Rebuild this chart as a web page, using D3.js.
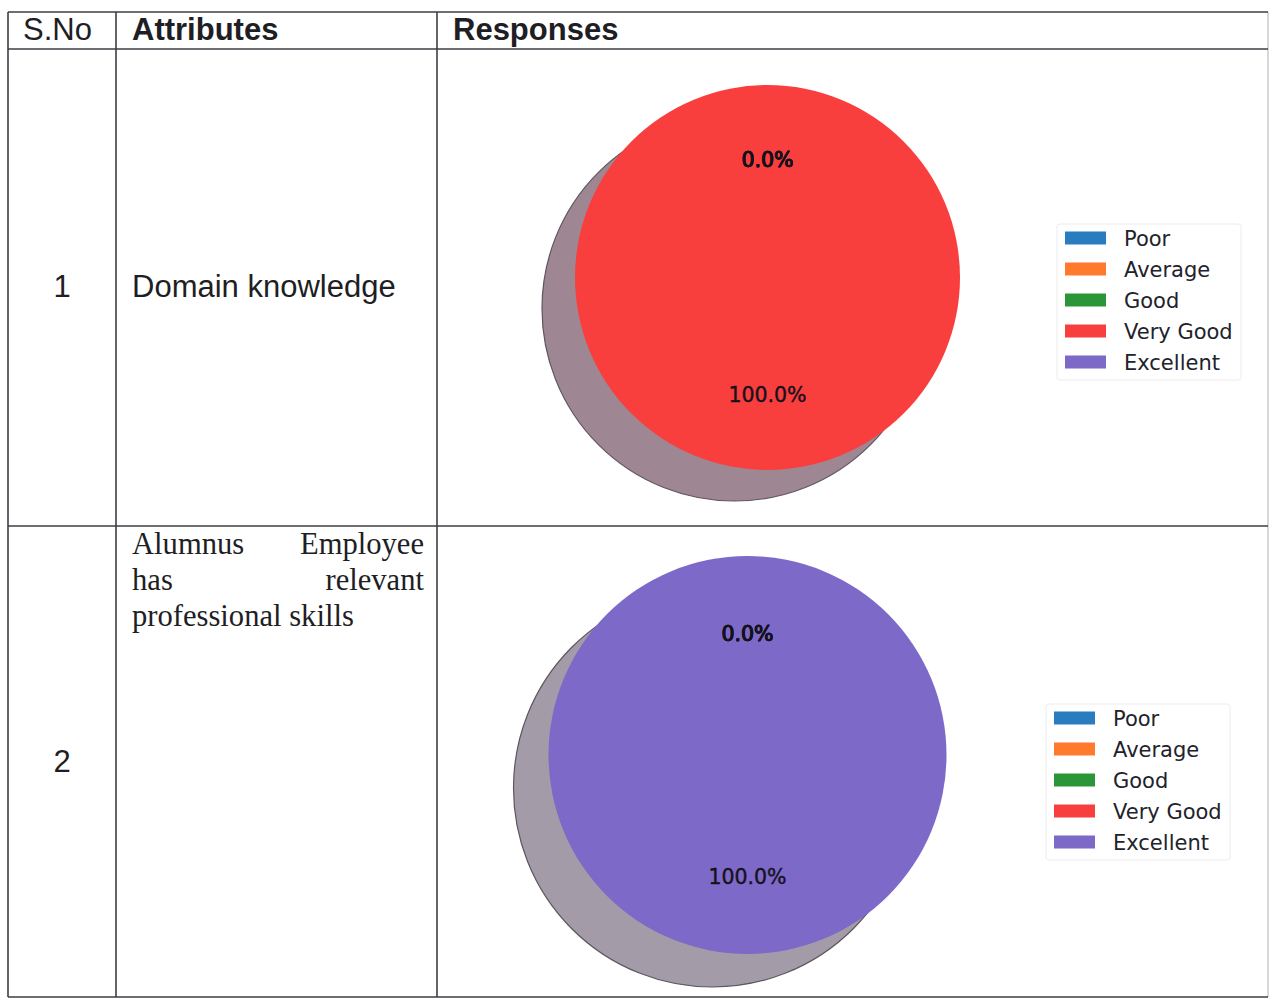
<!DOCTYPE html>
<html>
<head>
<meta charset="utf-8">
<script src="https://cdn.jsdelivr.net/npm/d3@7"></script>
<style>
  html, body { margin: 0; padding: 0; background: #fff; }
  svg { display: block; }
</style>
</head>
<body>
<svg id="chart" width="1270" height="998"></svg>
<script>
// ---------------- DATA ----------------
const headers = ["S.No", "Attributes", "Responses"];
const serialNumbers = ["1", "2"];
const attributes = ["Domain knowledge", "Alumnus Employee\nhas relevant\nprofessional skills"];
const categories = ["Poor", "Average", "Good", "Very Good", "Excellent"];
const responsesRow1 = [0, 0, 0, 100, 0];
const responsesRow2 = [0, 0, 0, 0, 100];
const responses = [responsesRow1, responsesRow2];

// ---------------- STYLE / LAYOUT ----------------
const palette = ["#2a7cc0", "#ff7a2e", "#2a9638", "#f93e3e", "#7d69c8"];
const shadowFill = ["#9e8792", "#a39ca8"];
const attrFonts = ["'Liberation Sans', Arial, sans-serif", "'Liberation Serif', 'Times New Roman', serif"];
const attrSizes = [31, 30.6];
const rowLayout = [
  { top: 49, bottom: 526, snoY: 297, attrY: 297, cx: 767.5, cy: 277.5, r: 192.5, sdx: -33, sdy: 31, legX: 1065, legY: 238 },
  { top: 526, bottom: 997, snoY: 772, attrY: 554, cx: 747.5, cy: 755, r: 199, sdx: -35, sdy: 33, legX: 1054, legY: 718 }
];
const colX = [8, 116, 437, 1268];
const tableTop = 12;

const svg = d3.select("#chart");
svg.append("rect").attr("width", 1270).attr("height", 998).attr("fill", "#fff");

const color = d3.scaleOrdinal().domain(categories).range(palette);

// ---------------- TABLE GRID ----------------
const grid = svg.append("g").attr("stroke", "#3d3d45").attr("stroke-width", 1.6);
const hLines = [tableTop, 49, 526, 997];
hLines.forEach(y => grid.append("line").attr("x1", colX[0]).attr("x2", colX[3]).attr("y1", y).attr("y2", y));
colX.forEach((x, i) => grid.append("line").attr("x1", x).attr("x2", x).attr("y1", tableTop).attr("y2", 997)
  .attr("stroke-opacity", i === 3 ? 0.25 : 1));

// ---------------- HEADERS ----------------
const headerX = [23, 132, 453];
headers.forEach((h, i) => {
  svg.append("text").attr("x", headerX[i]).attr("y", 40)
    .attr("font-family", "'Liberation Sans', Arial, sans-serif")
    .attr("font-size", 31)
    .attr("font-weight", i === 0 ? "normal" : "bold")
    .attr("fill", "#1e1e24")
    .text(h);
});

// ---------------- ROWS ----------------
const pie = d3.pie().sort(null).value(d => d.value);

rowLayout.forEach((L, ri) => {
  // serial number
  svg.append("text").attr("x", 62).attr("y", L.snoY)
    .attr("text-anchor", "middle")
    .attr("font-family", "'Liberation Sans', Arial, sans-serif")
    .attr("font-size", 31).attr("fill", "#1e1e24")
    .text(serialNumbers[ri]);

  // attribute text (justified, last line left)
  const lines = attributes[ri].split("\n");
  const left = 132, right = 424, lh = 36;
  lines.forEach((line, li) => {
    const words = line.split(" ");
    const y = L.attrY + li * lh;
    const isLast = li === lines.length - 1;
    if (isLast || words.length < 2 || lines.length === 1) {
      svg.append("text").attr("x", left).attr("y", y)
        .attr("font-family", attrFonts[ri]).attr("font-size", attrSizes[ri]).attr("fill", "#1e1e24")
        .text(line);
    } else {
      words.forEach((w, wi) => {
        const t = svg.append("text").attr("y", y)
          .attr("font-family", attrFonts[ri]).attr("font-size", attrSizes[ri]).attr("fill", "#1e1e24")
          .text(w);
        if (wi === 0) t.attr("x", left);
        else if (wi === words.length - 1) t.attr("x", right).attr("text-anchor", "end");
        else t.attr("x", left + (right - left) * wi / (words.length - 1)).attr("text-anchor", "middle");
      });
    }
  });

  // pie
  const data = categories.map((c, i) => ({ cat: c, value: responses[ri][i] }));
  const arcs = pie(data);
  const arc = d3.arc().innerRadius(0).outerRadius(L.r);
  const labelArc = d3.arc().innerRadius(L.r * 0.61).outerRadius(L.r * 0.61);
  const total = d3.sum(responses[ri]);

  const shadowG = svg.append("g").attr("transform", `translate(${L.cx + L.sdx},${L.cy + L.sdy})`);
  shadowG.selectAll("path").data(arcs.filter(d => d.value > 0)).join("path")
    .attr("d", arc)
    .attr("fill", shadowFill[ri])
    .attr("stroke", "#5f5560").attr("stroke-width", 1.2);

  const pieG = svg.append("g").attr("transform", `translate(${L.cx},${L.cy})`);
  pieG.selectAll("path").data(arcs.filter(d => d.value > 0)).join("path")
    .attr("d", arc)
    .attr("fill", d => color(d.data.cat));

  pieG.selectAll("text").data(arcs).join("text")
    .attr("transform", d => `translate(${labelArc.centroid(d)})`)
    .attr("text-anchor", "middle")
    .attr("dy", "0.36em")
    .attr("font-family", "'DejaVu Sans', sans-serif")
    .attr("font-size", 20.5)
    .attr("fill", "#15121c")
    .attr("stroke", "#15121c").attr("stroke-width", 0.4)
    .text(d => (100 * d.value / total).toFixed(1) + "%");

  // legend
  const legG = svg.append("g").attr("transform", `translate(${L.legX},${L.legY})`);
  legG.append("rect")
    .attr("x", -8).attr("y", -14).attr("width", 184).attr("height", 156).attr("rx", 3)
    .attr("fill", "#fff").attr("stroke", "#ececec").attr("stroke-width", 1);
  const items = legG.selectAll("g.item").data(categories).join("g")
    .attr("transform", (d, i) => `translate(0,${i * 31})`);
  items.append("rect").attr("x", 0).attr("y", -6.5).attr("width", 41).attr("height", 13)
    .attr("fill", d => color(d));
  items.append("text").attr("x", 59).attr("y", 7.5)
    .attr("font-family", "'DejaVu Sans', sans-serif")
    .attr("font-size", 21)
    .attr("fill", "#22222a")
    .text(d => d);
});
</script>
</body>
</html>
